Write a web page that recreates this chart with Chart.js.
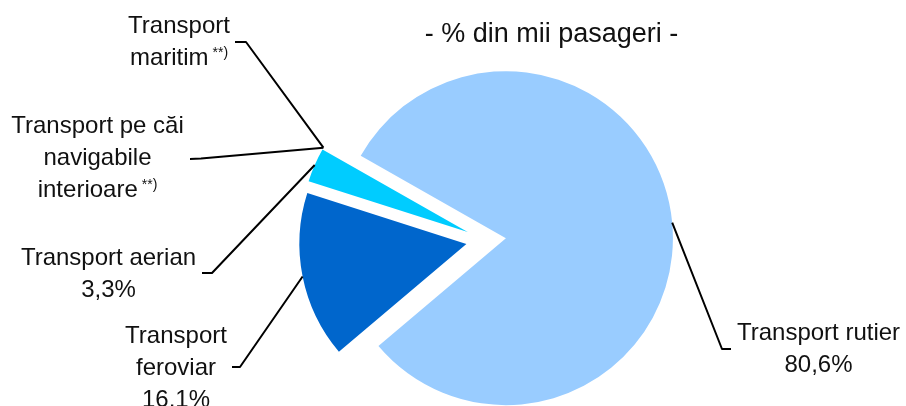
<!DOCTYPE html>
<html>
<head>
<meta charset="utf-8">
<script src="https://cdn.jsdelivr.net/npm/chart.js@4.4.1/dist/chart.umd.min.js"></script>
<style>
  html, body { margin: 0; padding: 0; background: #fff; }
  canvas { display: block; }
</style>
</head>
<body>
<canvas id="chart" width="906" height="406"></canvas>
<script>
// Passenger transport by mode, share of thousand passengers
const categories = [
  ['Transport rutier'],
  ['Transport', 'feroviar'],
  ['Transport aerian'],
  ['Transport pe căi', 'navigabile', 'interioare'],
  ['Transport', 'maritim']
];
const shares = [80.6, 16.1, 3.3, 0, 0];
const footnotes = ['', '', '', '**)', '**)'];
const sliceColors = ['#99CCFF', '#0066CC', '#00CCFF', '#3366FF', '#000080'];
const chartTitle = '- % din mii pasageri -';

// Label blocks: centre x, first baseline, elbow and end of the leader line
const labelLayout = [
  { x: 818.5, y: 340, elbow: [722, 349], end: [731, 349] },
  { x: 176,   y: 343, elbow: [240, 367], end: [232, 367] },
  { x: 108.5, y: 265, elbow: [212, 273], end: [202, 273] },
  { x: 97.5,  y: 133, elbow: [201, 158.5], end: [190, 159] },
  { x: 179,   y: 33,  elbow: [246, 42], end: [235, 42] }
];

const FONT = "'Liberation Sans', Arial, sans-serif";
const labelFont = '24px ' + FONT;
const noteFont = '14px ' + FONT;
const titleFont = '27px ' + FONT;
const lineHeight = 32;
const explode = 20;

function formatShare(v) {
  return v.toFixed(1).replace('.', ',') + '%';
}

const explodedPie = {
  id: 'explodedPie',
  // every slice is pushed out from the centre along its bisector
  beforeDatasetDraw(chart, args) {
    const ctx = chart.ctx;
    args.meta.data.forEach(arc => {
      const mid = (arc.startAngle + arc.endAngle) / 2;
      ctx.save();
      ctx.translate(Math.cos(mid) * explode, Math.sin(mid) * explode);
      arc.draw(ctx);
      ctx.restore();
    });
    return false;
  },
  afterDraw(chart) {
    const ctx = chart.ctx;
    const arcs = chart.getDatasetMeta(0).data;
    ctx.save();

    // leader lines from the outer edge of each slice
    ctx.strokeStyle = '#000';
    ctx.lineWidth = 2;
    ctx.lineJoin = 'round';
    arcs.forEach((arc, i) => {
      const L = labelLayout[i];
      const mid = (arc.startAngle + arc.endAngle) / 2;
      const reach = explode + arc.outerRadius;
      const ax = arc.x + Math.cos(mid) * reach;
      const ay = arc.y + Math.sin(mid) * reach;
      ctx.beginPath();
      ctx.moveTo(ax, ay);
      ctx.lineTo(L.elbow[0], L.elbow[1]);
      ctx.lineTo(L.end[0], L.end[1]);
      ctx.stroke();
    });

    // label text, with the value line and footnote marks
    ctx.fillStyle = '#111';
    ctx.textBaseline = 'alphabetic';
    ctx.textAlign = 'left';
    arcs.forEach((arc, i) => {
      const L = labelLayout[i];
      const lines = categories[i].slice();
      const noteLine = lines.length - 1;
      if (shares[i] > 0) lines.push(formatShare(shares[i]));
      lines.forEach((text, j) => {
        const y = L.y + j * lineHeight;
        const note = j === noteLine ? footnotes[i] : '';
        ctx.font = labelFont;
        const w = ctx.measureText(text).width;
        let nw = 0;
        const gap = 4;
        if (note) {
          ctx.font = noteFont;
          nw = ctx.measureText(note).width + gap;
        }
        const x0 = L.x - (w + nw) / 2;
        ctx.font = labelFont;
        ctx.fillText(text, x0, y);
        if (note) {
          ctx.font = noteFont;
          ctx.fillText(note, x0 + w + gap, y - 8);
        }
      });
    });

    ctx.font = titleFont;
    ctx.textAlign = 'center';
    ctx.fillText(chartTitle, 551.5, 42);
    ctx.restore();
  }
};

new Chart(document.getElementById('chart'), {
  type: 'pie',
  data: {
    labels: categories,
    datasets: [{
      data: shares,
      backgroundColor: sliceColors,
      borderWidth: 0
    }]
  },
  options: {
    responsive: false,
    devicePixelRatio: 1,
    animation: false,
    rotation: 299.6,
    radius: 167,
    layout: { padding: { left: 66, top: 74, right: 0, bottom: 0 } },
    plugins: {
      legend: { display: false },
      tooltip: { enabled: false },
      title: { display: false }
    },
    events: []
  },
  plugins: [explodedPie]
});
</script>
</body>
</html>
